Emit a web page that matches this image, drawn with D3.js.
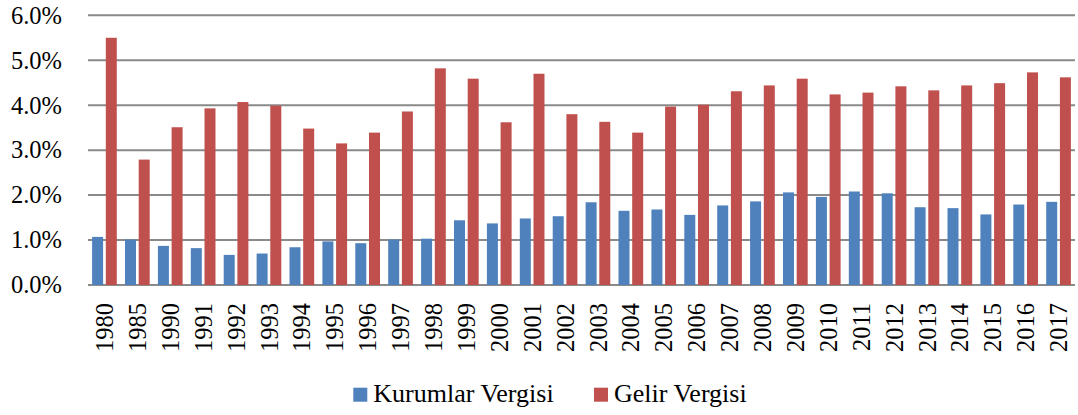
<!DOCTYPE html>
<meta charset="utf-8">
<style>
body { margin: 0; background: #fff; }
svg { display: block; font-family: "Liberation Serif", "Times New Roman", serif; }
.grid line { stroke: #8a8a8a; stroke-width: 2px; }
.axis text { font-family: "Liberation Serif", "Times New Roman", serif; font-size: 24.5px; fill: #000; }
.axis path, .axis line { display: none; }
.legend text { font-size: 26px; fill: #000; }
</style>
<body>
<div id="chart"></div>
<script src="https://cdn.jsdelivr.net/npm/d3@7"></script>
<script>
// years on the x axis
var years = ["1980", "1985", "1990", "1991", "1992", "1993", "1994", "1995", "1996", "1997",
    "1998", "1999", "2000", "2001", "2002", "2003", "2004", "2005", "2006", "2007",
    "2008", "2009", "2010", "2011", "2012", "2013", "2014", "2015", "2016", "2017"];

// % shares
var kurumlar = [1.07, 1.01, 0.87, 0.82, 0.67, 0.70, 0.84, 0.97, 0.93, 1.01,
    1.03, 1.44, 1.37, 1.48, 1.53, 1.84, 1.65, 1.68, 1.56, 1.77,
    1.86, 2.06, 1.96, 2.08, 2.04, 1.73, 1.71, 1.57, 1.79, 1.85];
var gelir = [5.50, 2.79, 3.51, 3.93, 4.07, 3.99, 3.48, 3.15, 3.39, 3.86,
    4.82, 4.59, 3.62, 4.70, 3.80, 3.63, 3.39, 3.97, 4.01, 4.31,
    4.44, 4.59, 4.24, 4.28, 4.42, 4.33, 4.44, 4.49, 4.73, 4.62];

var seriesNames = ["Kurumlar Vergisi", "Gelir Vergisi"];
var seriesColors = ["#4f81bd", "#c0504d"];
var yTicks = [0, 1, 2, 3, 4, 5, 6];

var W = 1078, H = 415;
var margin = { top: 15.3, right: 3, bottom: 130, left: 88 };
var width = W - margin.left - margin.right,
    height = H - margin.top - margin.bottom;

var svg = d3.select("#chart").append("svg")
    .attr("width", W)
    .attr("height", H);

var g = svg.append("g")
    .attr("transform", "translate(" + margin.left + "," + margin.top + ")");

var x0 = d3.scaleBand().domain(years).range([0, width]);
var x1 = d3.scaleBand().domain([0, 1]).range([0, x0.bandwidth()])
    .paddingInner(0.197).paddingOuter(0.3);
var y = d3.scaleLinear().domain([0, 6]).range([height, 0]);

// gridlines
g.append("g").attr("class", "grid")
    .selectAll("line")
    .data(yTicks)
    .enter().append("line")
    .attr("x1", 0).attr("x2", width)
    .attr("y1", function(d) { return y(d); })
    .attr("y2", function(d) { return y(d); });

var rows = years.map(function(yr, i) { return { year: yr, vals: [kurumlar[i], gelir[i]] }; });

var grp = g.selectAll(".year")
    .data(rows)
    .enter().append("g")
    .attr("class", "year")
    .attr("transform", function(d) { return "translate(" + x0(d.year) + ",0)"; });

grp.selectAll("rect")
    .data(function(d) { return d.vals; })
    .enter().append("rect")
    .attr("x", function(d, i) { return x1(i); })
    .attr("width", x1.bandwidth())
    .attr("y", function(d) { return y(d); })
    .attr("height", function(d) { return height - y(d); })
    .attr("fill", function(d, i) { return seriesColors[i]; });

// y axis
g.append("g").attr("class", "axis")
    .call(d3.axisLeft(y).tickValues(yTicks).tickSize(0).tickPadding(26)
        .tickFormat(function(d) { return d.toFixed(1) + "%"; }));

// x axis
g.append("g").attr("class", "axis")
    .attr("transform", "translate(0," + height + ")")
    .call(d3.axisBottom(x0).tickSize(0))
    .selectAll("text")
    .attr("transform", "rotate(-90)")
    .attr("text-anchor", "end")
    .attr("x", -18)
    .attr("y", 0)
    .attr("dy", "0.35em");

// legend
var legendX = [353.3, 594];
var leg = svg.append("g").attr("class", "legend")
    .selectAll("g")
    .data(seriesNames)
    .enter().append("g")
    .attr("transform", function(d, i) { return "translate(" + legendX[i] + ",387.7)"; });

leg.append("rect")
    .attr("width", 14).attr("height", 14)
    .attr("fill", function(d, i) { return seriesColors[i]; });

leg.append("text")
    .attr("x", 20)
    .attr("y", 14)
    .text(function(d) { return d; });
</script>
</body>
